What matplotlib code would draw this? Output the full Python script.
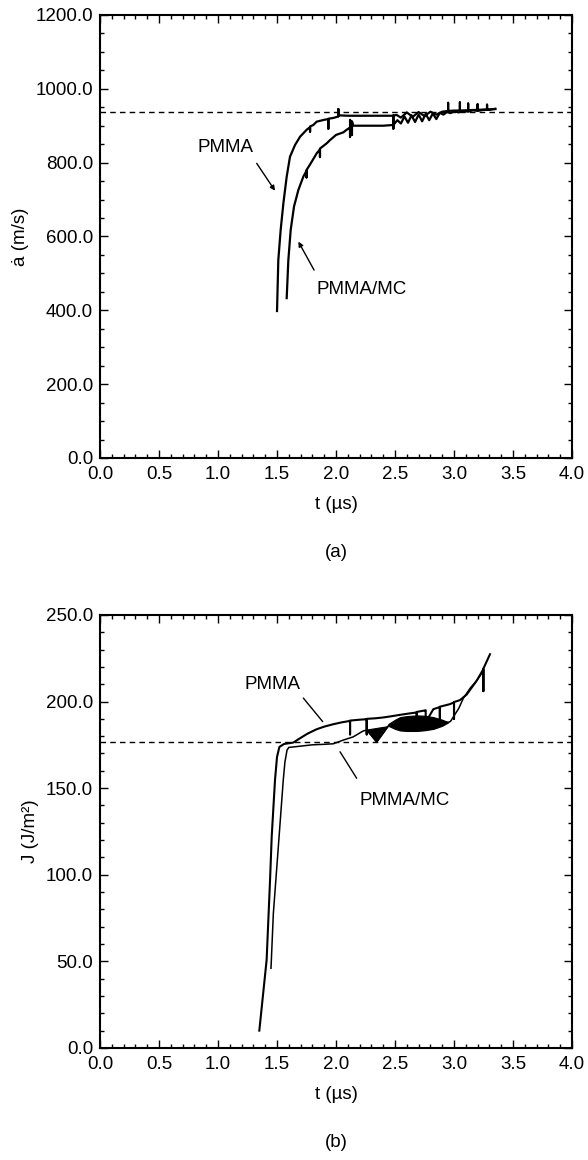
import matplotlib
matplotlib.use("Agg")
import matplotlib.pyplot as plt
from matplotlib.ticker import MultipleLocator, FormatStrFormatter

plt.rcParams['font.family'] = ['Liberation Sans', 'DejaVu Sans']

# ---------------- (a) crack speed ----------------
a_pmma_t = [1.50, 1.511, 1.531, 1.554, 1.582, 1.610, 1.653, 1.695, 1.751, 1.78, 1.78,
            1.78, 1.808, 1.836, 1.90, 1.935, 1.935, 1.935, 1.977, 2.02, 2.02, 2.02,
            2.034, 2.10, 2.20, 2.30, 2.40, 2.486, 2.486, 2.486, 2.515, 2.55, 2.60,
            2.65, 2.70, 2.75, 2.80, 2.85, 2.90, 2.95, 2.95, 2.95, 3.00, 3.05, 3.05,
            3.05, 3.12, 3.12, 3.12, 3.20, 3.20, 3.20, 3.28, 3.28, 3.28, 3.35]
a_pmma_v = [398, 536, 618, 690, 762, 816, 848, 870, 889, 896, 884,
            898, 902, 911, 916, 918, 892, 919, 921, 925, 945, 926,
            928, 927, 927, 927, 927, 927, 892, 928, 929, 922, 936, 924,
            937, 926, 938, 930, 938, 940, 962, 940, 941, 941, 963,
            941, 942, 960, 942, 943, 958, 943, 944, 957, 944, 945]

a_mc_t = [1.582, 1.596, 1.616, 1.644, 1.681, 1.723, 1.75, 1.75, 1.75, 1.78, 1.836,
          1.864, 1.864, 1.864, 1.92, 1.949, 2.00, 2.062, 2.09, 2.119, 2.119, 2.119,
          2.135, 2.135, 2.135, 2.147, 2.20, 2.30, 2.40, 2.486, 2.52, 2.55, 2.58,
          2.61, 2.64, 2.67, 2.70, 2.73, 2.76, 2.79, 2.82, 2.85, 2.88, 2.91, 2.94,
          2.97, 3.00, 3.04, 3.08, 3.12, 3.16, 3.20, 3.25, 3.30, 3.35]
a_mc_v = [433, 536, 618, 681, 726, 762, 778, 760, 780, 795, 825,
          836, 815, 838, 852, 861, 875, 882, 889, 895, 870, 916,
          898, 875, 912, 900, 900, 900, 900, 902, 915, 906, 925, 908,
          928, 910, 930, 912, 932, 915, 933, 918, 935, 930, 937,
          934, 939, 936, 940, 938, 942, 940, 943, 943, 946]

a_dashed = 938

# ---------------- (b) J integral ----------------
b_pmma_t = [1.35, 1.412, 1.441, 1.455, 1.483, 1.50, 1.52, 1.56, 1.638, 1.695, 1.76,
            1.836, 1.90, 1.977, 2.05, 2.119, 2.119, 2.119, 2.20, 2.26, 2.26, 2.26,
            2.33, 2.401, 2.47, 2.542, 2.61, 2.684, 2.684, 2.684, 2.75, 2.76, 2.76,
            2.825, 2.88, 2.88, 2.88, 2.966, 3.00, 3.00, 3.00, 3.05, 3.107, 3.192,
            3.249, 3.249, 3.249, 3.305]
b_pmma_J = [10, 50.8, 97, 122, 154.7, 168, 173.8, 175.5, 176.3, 178.8, 181.5,
            184, 185.5, 186.9, 188, 188.8, 181, 189, 189.5, 189.8, 181, 190,
            190.3, 190.8, 191.5, 192.3, 193, 193.7, 186, 194, 194.8, 195, 188,
            195.6, 196.8, 188, 197, 198.5, 199.5, 190, 199.7, 200.8, 204, 212,
            218.7, 206, 219, 227.3]

b_mc_t = [1.449, 1.469, 1.511, 1.553, 1.567, 1.585, 1.60, 1.695, 1.80, 1.90, 1.977,
          2.06, 2.146, 2.23, 2.26, 2.345, 2.443, 2.542, 2.684, 2.825, 2.952, 2.97,
          3.00, 3.04, 3.08, 3.14, 3.18, 3.22, 3.24]
b_mc_J = [46, 77.7, 116, 154.7, 165, 172, 173.5, 174.2, 175, 175.3, 175.6,
          177.7, 179.6, 183, 183.5, 177, 186, 187.5, 188.5, 188.5, 188, 188.5,
          191.7, 196, 202, 208, 211, 214.8, 217]

# dense oscillation band and dip of PMMA/MC (filled in the picture)
b_band_t = [2.443, 2.50, 2.542, 2.60, 2.684, 2.75, 2.825, 2.90, 2.952]
b_band_hi = [187.0, 189.5, 191.0, 191.6, 192.0, 191.8, 191.0, 189.5, 188.0]
b_band_lo = [186.0, 184.2, 183.3, 183.0, 183.0, 183.4, 184.2, 186.0, 188.0]
b_dip_t = [2.26, 2.345, 2.443]
b_dip_J = [183.5, 176.3, 185.5]

b_dashed = 176.5

# ---------------- figure ----------------
fig = plt.figure(figsize=(5.88, 11.6), dpi=100)
ax1 = fig.add_axes([0.1701, 0.6052, 0.8027, 0.3819])
ax2 = fig.add_axes([0.1701, 0.0966, 0.8027, 0.3733])

FS = 13.5


def style(ax):
    ax.tick_params(which='both', direction='in', top=True, right=True,
                   labelsize=FS, width=1.0)
    ax.tick_params(axis='x', which='both', pad=6)
    ax.tick_params(axis='y', which='both', pad=5)
    ax.tick_params(which='major', length=6)
    ax.tick_params(which='minor', length=3)
    for s in ax.spines.values():
        s.set_linewidth(1.5)
    ax.xaxis.set_major_locator(MultipleLocator(0.5))
    ax.xaxis.set_minor_locator(MultipleLocator(0.1))
    ax.xaxis.set_major_formatter(FormatStrFormatter('%.1f'))
    ax.yaxis.set_major_formatter(FormatStrFormatter('%.1f'))
    ax.set_xlim(0, 4)
    ax.set_xlabel('t (µs)', fontsize=FS, labelpad=9)


arrow_kw = dict(arrowstyle='-|>', color='black', lw=1.0,
                mutation_scale=7, shrinkA=0, shrinkB=0)

# (a)
ax1.plot(a_pmma_t, a_pmma_v, color='black', lw=1.6)
ax1.plot(a_mc_t, a_mc_v, color='black', lw=1.6)
ax1.axhline(a_dashed, color='black', lw=1.0, ls=(0, (4, 3)))
style(ax1)
ax1.set_ylim(0, 1200)
ax1.yaxis.set_major_locator(MultipleLocator(200))
ax1.yaxis.set_minor_locator(MultipleLocator(50))
ax1.set_ylabel('ȧ (m/s)', fontsize=FS, labelpad=5)
ax1.text(1.065, 842, 'PMMA', fontsize=FS, ha='center', va='center')
ax1.annotate('', xy=(1.483, 724), xytext=(1.328, 798), arrowprops=arrow_kw)
ax1.text(1.836, 457, 'PMMA/MC', fontsize=FS, ha='left', va='center')
ax1.annotate('', xy=(1.681, 586), xytext=(1.814, 509), arrowprops=arrow_kw)
ax1.text(0.5, -0.214, '(a)', transform=ax1.transAxes, fontsize=FS,
         ha='center', va='center')

# (b)
ax2.plot(b_pmma_t, b_pmma_J, color='black', lw=1.5)
ax2.plot(b_mc_t, b_mc_J, color='black', lw=1.1)
ax2.fill_between(b_band_t, b_band_lo, b_band_hi, color='black', lw=0.8)
ax2.fill(b_dip_t, b_dip_J, color='black', lw=0.8)
ax2.axhline(b_dashed, color='black', lw=1.0, ls=(0, (4, 3)))
style(ax2)
ax2.set_ylim(0, 250)
ax2.yaxis.set_major_locator(MultipleLocator(50))
ax2.yaxis.set_minor_locator(MultipleLocator(10))
ax2.set_ylabel('J (J/m²)', fontsize=FS, labelpad=5)
ax2.text(1.46, 210, 'PMMA', fontsize=FS, ha='center', va='center')
ax2.annotate('', xy=(1.887, 188.4), xytext=(1.723, 202),
             arrowprops=dict(arrowstyle='-', color='black', lw=1.0,
                             shrinkA=0, shrinkB=0))
ax2.text(2.2, 142.6, 'PMMA/MC', fontsize=FS, ha='left', va='center')
ax2.annotate('', xy=(2.034, 171), xytext=(2.175, 155.7),
             arrowprops=dict(arrowstyle='-', color='black', lw=1.0,
                             shrinkA=0, shrinkB=0))
ax2.text(0.5, -0.219, '(b)', transform=ax2.transAxes, fontsize=FS,
         ha='center', va='center')

fig.savefig('out.png', dpi=100)
